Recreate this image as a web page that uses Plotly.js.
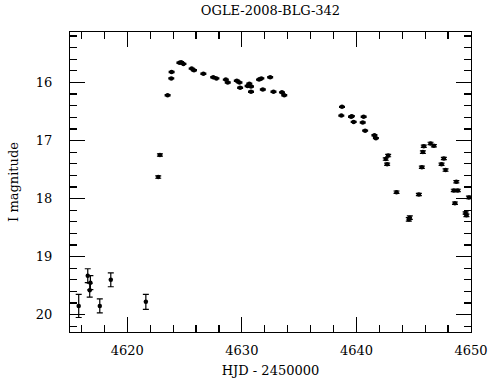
<!DOCTYPE html>
<html>
<head>
<meta charset="utf-8">
<script src="https://cdn.plot.ly/plotly-3.0.1.min.js"></script>
<style>html,body{margin:0;padding:0;background:#fff;}#plot{width:490px;height:380px;}</style>
</head>
<body>
<div id="plot"></div>
<script>
const hjd = [4615.76, 4616.55, 4616.78, 4616.72, 4617.60, 4618.56, 4621.62,
  4622.70, 4622.85, 4623.52, 4623.84, 4623.87, 4624.55, 4624.70, 4624.90,
  4625.62, 4625.82, 4626.64, 4627.50, 4627.78, 4628.60, 4628.77, 4629.56,
  4629.79, 4629.85, 4630.50, 4630.65, 4630.80, 4630.80, 4631.50, 4631.70,
  4631.83, 4632.47, 4632.76, 4633.50, 4633.70, 4638.74, 4638.68, 4639.53,
  4639.60, 4639.76, 4640.63, 4640.55, 4640.76, 4641.57, 4641.70, 4642.77,
  4642.56, 4642.68, 4643.50, 4644.57, 4644.66, 4645.45, 4645.71, 4645.80,
  4645.88, 4646.47, 4646.76, 4647.43, 4647.63, 4647.78, 4648.50, 4648.60,
  4648.72, 4648.85, 4649.53, 4649.60, 4649.82];
const imag = [19.85, 19.33, 19.45, 19.58, 19.85, 19.40, 19.78,
  17.63, 17.25, 16.22, 15.93, 15.82, 15.66, 15.65, 15.68,
  15.76, 15.79, 15.85, 15.91, 15.93, 15.95, 16.00, 15.97,
  16.00, 16.09, 16.06, 16.02, 16.07, 16.16, 15.95, 15.93,
  16.12, 15.91, 16.16, 16.17, 16.22, 16.42, 16.57, 16.59,
  16.58, 16.68, 16.59, 16.69, 16.83, 16.91, 16.96, 17.26,
  17.32, 17.41, 17.89, 18.36, 18.33, 17.93, 17.46, 17.20,
  17.10, 17.05, 17.09, 17.41, 17.31, 17.51, 17.86, 18.08,
  17.71, 17.86, 18.25, 18.29, 17.98];
const ierr = [0.20, 0.12, 0.12, 0.12, 0.12, 0.12, 0.13,
  0.02, 0.02, 0.01, 0.01, 0.01, 0.01, 0.01, 0.01,
  0.01, 0.01, 0.01, 0.01, 0.01, 0.01, 0.01, 0.01,
  0.01, 0.01, 0.01, 0.01, 0.01, 0.01, 0.01, 0.01,
  0.01, 0.01, 0.01, 0.01, 0.01, 0.01, 0.01, 0.01,
  0.01, 0.01, 0.01, 0.01, 0.01, 0.01, 0.01, 0.02,
  0.02, 0.02, 0.02, 0.03, 0.03, 0.02, 0.02, 0.02,
  0.02, 0.02, 0.02, 0.02, 0.02, 0.02, 0.02, 0.02,
  0.02, 0.02, 0.02, 0.02, 0.02];

const fnt = {family: 'DejaVu Serif, Liberation Serif, serif', color: '#000'};

const trace = {
  x: hjd, y: imag, type: 'scatter', mode: 'markers',
  marker: {color: '#000', size: 4.5, symbol: 'circle'},
  error_y: {type: 'data', array: ierr, visible: true, color: '#000', thickness: 1.2, width: 3},
  hoverinfo: 'skip'
};

const axisCommon = {
  showgrid: false, zeroline: false, showline: true, linecolor: '#000', linewidth: 1.2,
  mirror: 'ticks', ticks: 'inside', ticklen: 15, tickwidth: 1.2, tickcolor: '#000',
  tickfont: Object.assign({size: 13}, fnt)
};

const layout = {
  width: 490, height: 380,
  margin: {l: 70, r: 19, t: 32, b: 48},
  paper_bgcolor: '#fff', plot_bgcolor: '#fff',
  showlegend: false,
  title: {text: 'OGLE-2008-BLG-342', font: Object.assign({size: 13}, fnt),
          x: 0.5, xref: 'paper', xanchor: 'center', y: 0.972, yref: 'container', yanchor: 'middle'},
  xaxis: Object.assign({}, axisCommon, {
    range: [4615, 4650], dtick: 10, tick0: 4620,
    minor: {dtick: 2, tick0: 4620, ticklen: 7, ticks: 'inside', tickwidth: 1.2, tickcolor: '#000'},
    ticklabelstandoff: 6,
    title: {text: 'HJD - 2450000', font: Object.assign({size: 13}, fnt), standoff: 9}
  }),
  yaxis: Object.assign({}, axisCommon, {
    range: [20.3, 15.13], dtick: 1, tick0: 15,
    minor: {dtick: 0.2, tick0: 15, ticklen: 7, ticks: 'inside', tickwidth: 1.2, tickcolor: '#000'},
    ticklabelstandoff: 14,
    title: {text: 'I magnitude', font: Object.assign({size: 13}, fnt), standoff: 14}
  })
};

Plotly.newPlot('plot', [trace], layout, {staticPlot: true, displayModeBar: false});
</script>
</body>
</html>
